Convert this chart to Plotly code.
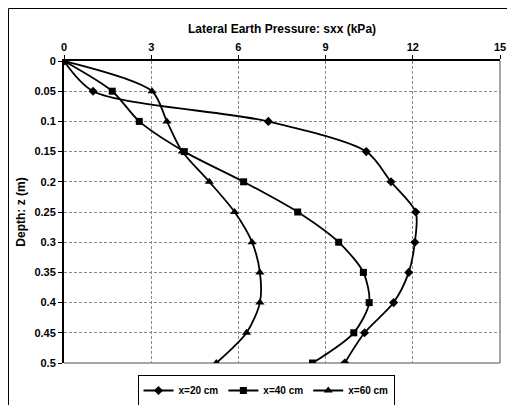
import plotly.graph_objects as go

depth = [0, 0.05, 0.1, 0.15, 0.2, 0.25, 0.3, 0.35, 0.4, 0.45, 0.5]
sxx_20 = [0, 1.0, 7.03, 10.4, 11.25, 12.1, 12.07, 11.86, 11.34, 10.34, 9.66]
sxx_40 = [0, 1.66, 2.59, 4.14, 6.18, 8.04, 9.45, 10.3, 10.5, 9.97, 8.55]
sxx_60 = [0, 3.03, 3.54, 4.07, 5.0, 5.87, 6.47, 6.74, 6.74, 6.28, 5.24]
names = ["x=20 cm", "x=40 cm", "x=60 cm"]
symbols = ["diamond", "square", "triangle-up"]
msizes = [7, 7, 8]

# page body margin offsets the figure by 8px
OFF = 8
W, H = 515, 405
L, R, T, B = 64 - OFF, 500 - OFF, 61 - OFF, 363 - OFF
pw, ph = R - L, B - T

fig = go.Figure()
for vals, name, sym, ms in zip([sxx_20, sxx_40, sxx_60], names, symbols, msizes):
    fig.add_trace(go.Scatter(
        x=vals, y=depth, name=name, mode="lines+markers",
        line=dict(color="black", width=1.8, shape="spline", smoothing=0.8),
        marker=dict(symbol=sym, size=ms, color="black"),
    ))

FAM = "Liberation Sans, Arial, sans-serif"
font = dict(family=FAM, size=11, color="black")

fig.update_layout(
    width=W, height=H,
    margin=dict(l=L, r=W - R, t=T, b=H - B, autoexpand=False),
    paper_bgcolor="white", plot_bgcolor="white",
    font=font,
    showlegend=True,
    legend=dict(orientation="h", x=(266 - OFF - L) / pw, xanchor="center",
                y=-(375 - OFF - B) / ph, yanchor="top",
                bordercolor="black", borderwidth=1,
                font=dict(family=FAM, size=10, color="black", weight="bold"),
                itemwidth=30, tracegroupgap=0),
    xaxis=dict(
        side="top", range=[0, 15], tick0=0, dtick=3,
        showgrid=True, gridcolor="#888888", griddash="3px,2px", gridwidth=1,
        showline=True, linecolor="black", linewidth=2,
        ticks="outside", ticklen=4, tickcolor="black",
        zeroline=False,
        tickfont=dict(family=FAM, size=11, weight="bold"),
        title=dict(text="<b>Lateral Earth Pressure: sxx (kPa)</b>",
                   font=dict(family=FAM, size=12), standoff=4),
    ),
    yaxis=dict(
        range=[0.5, 0], tick0=0, dtick=0.05,
        showgrid=True, gridcolor="#888888", griddash="3px,2px", gridwidth=1,
        showline=True, linecolor="black", linewidth=2,
        ticks="outside", ticklen=4, tickcolor="black",
        zeroline=False,
        tickfont=dict(family=FAM, size=11, weight="bold"),
        title=dict(text="<b>Depth: z (m)</b>",
                   font=dict(family=FAM, size=12), standoff=6),
    ),
    shapes=[
        dict(type="line", xref="paper", yref="paper", x0=1, x1=1, y0=0, y1=1,
             line=dict(color="#888888", width=1.5), layer="below"),
        dict(type="line", xref="paper", yref="paper", x0=0, x1=1, y0=0, y1=0,
             line=dict(color="#888888", width=1.5), layer="below"),
        dict(type="rect", xref="paper", yref="paper",
             x0=(0.5 - L) / pw, x1=(W - 0.5 - L) / pw,
             y0=-(H - 0.5 - B) / ph, y1=1 + (T - 0.5) / ph,
             line=dict(color="black", width=1)),
    ],
)

fig.write_html("out.html")
